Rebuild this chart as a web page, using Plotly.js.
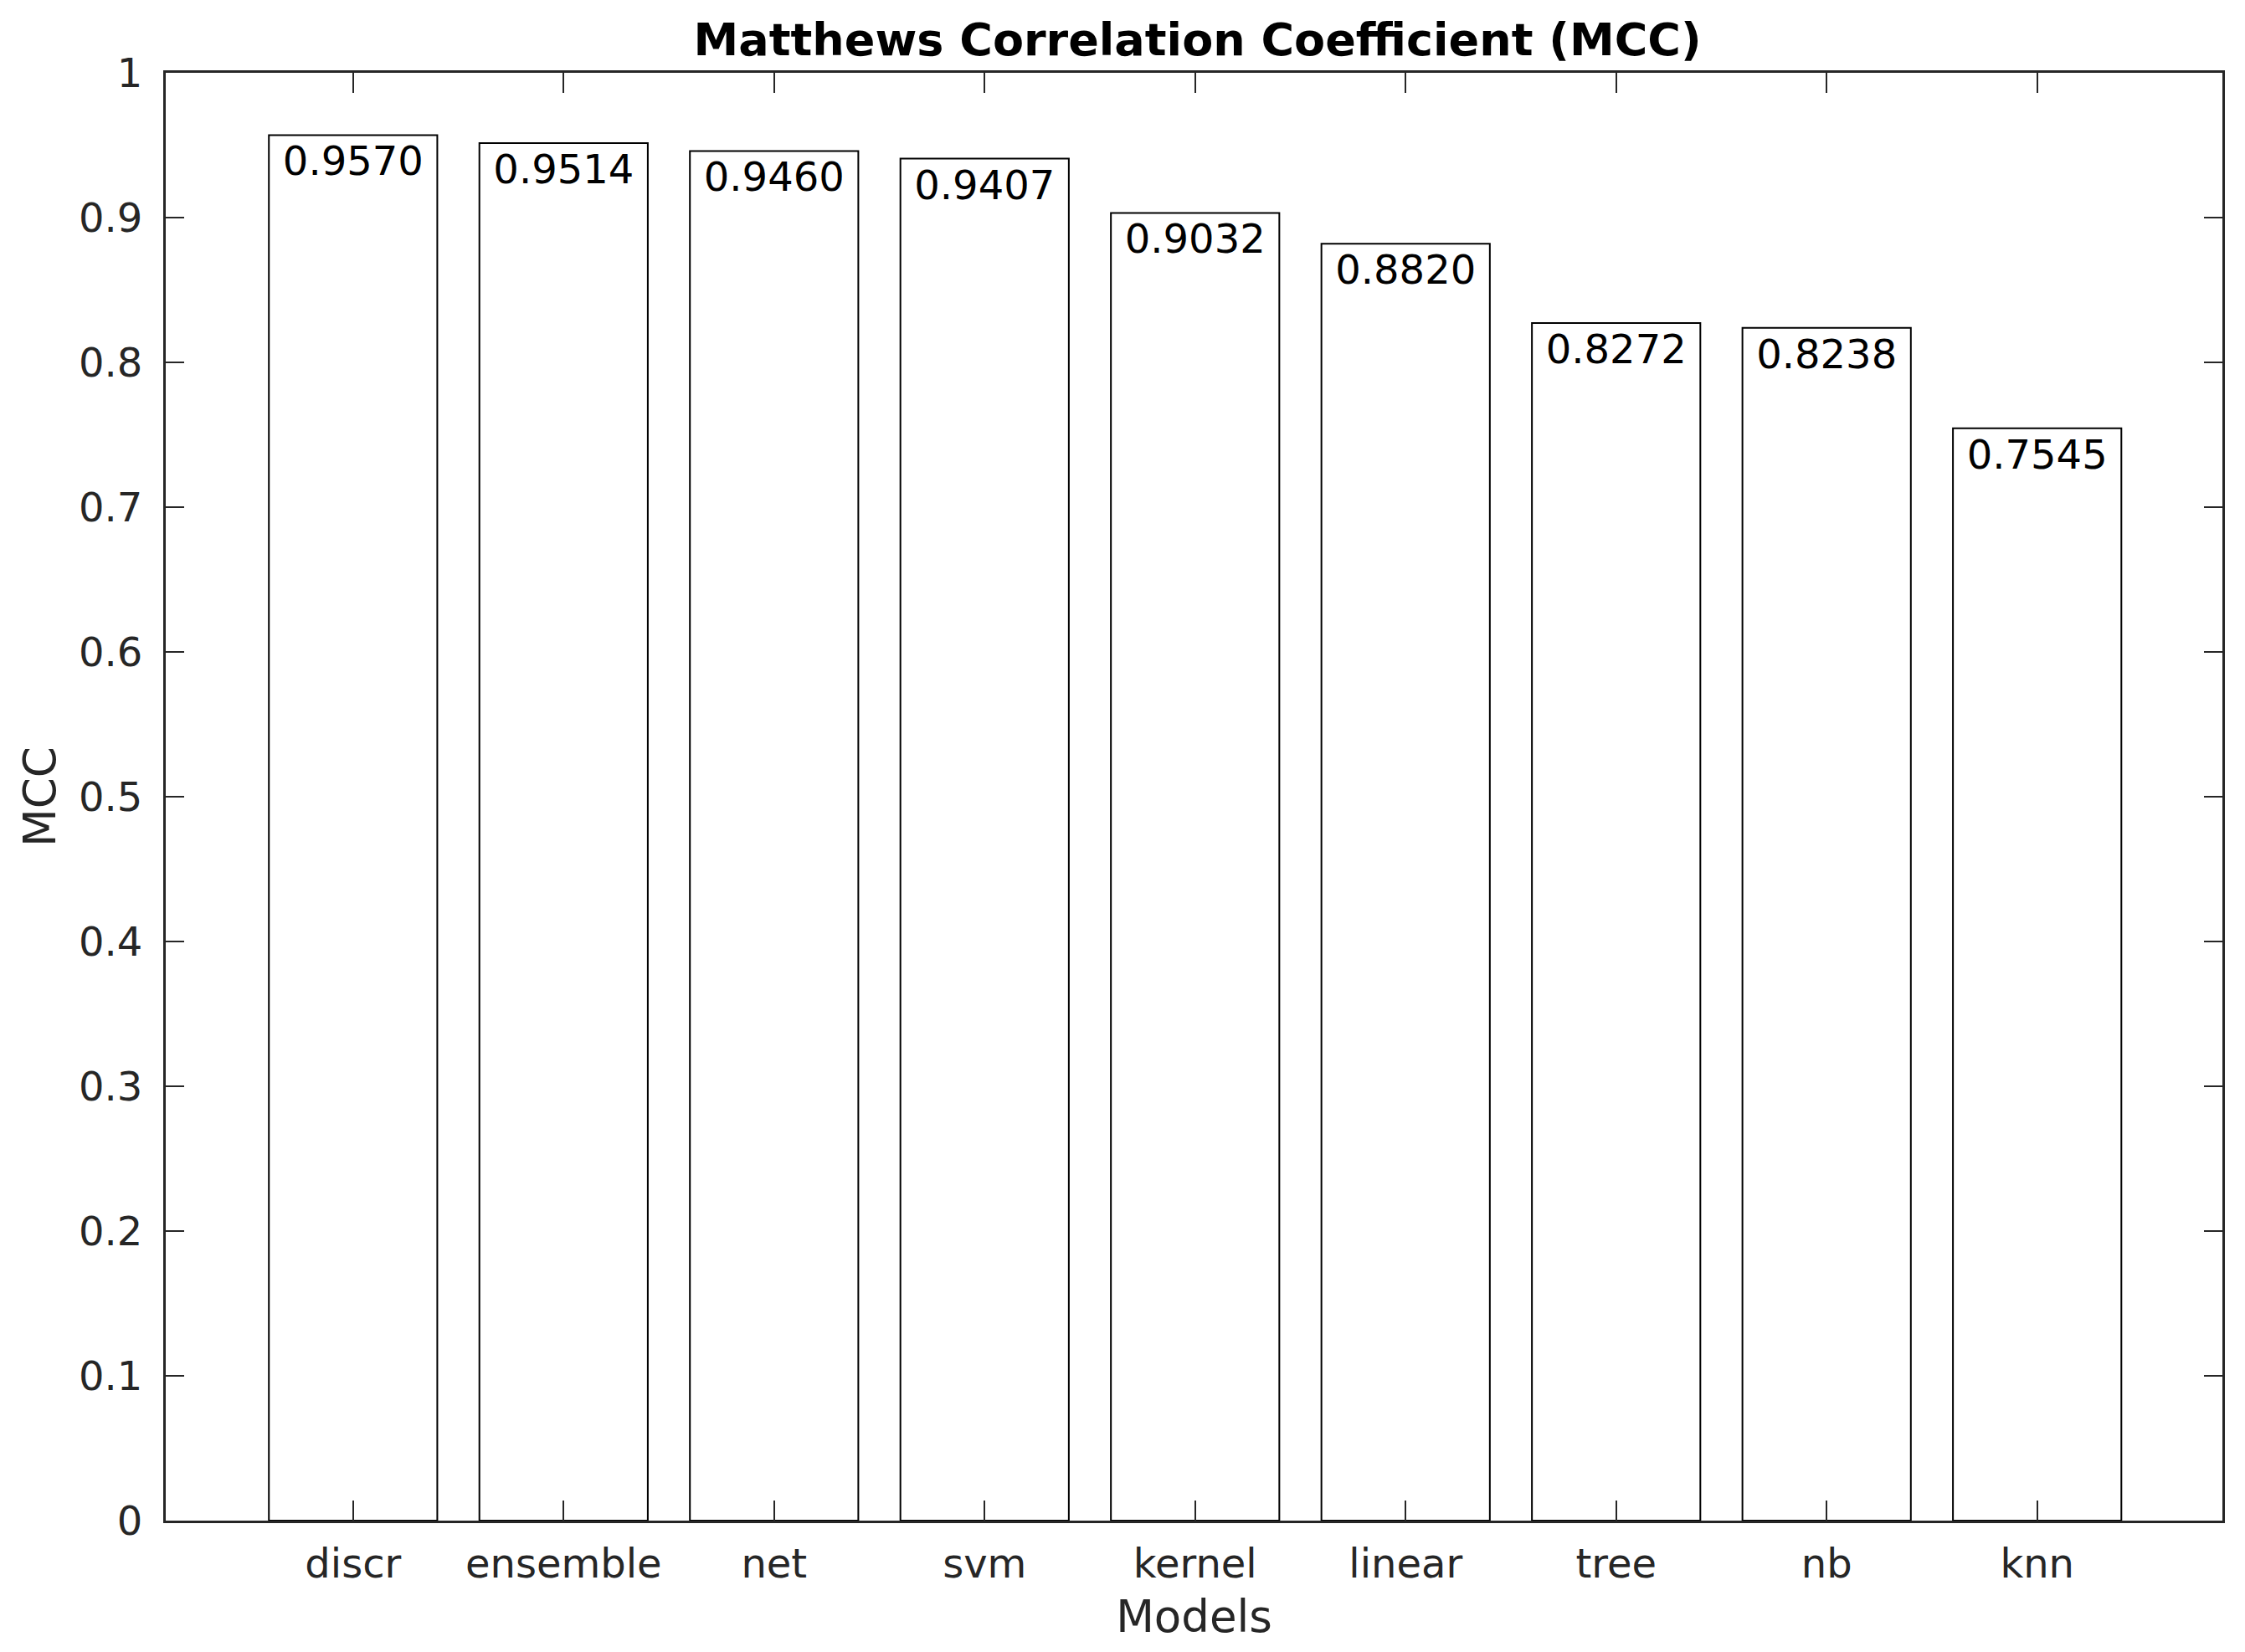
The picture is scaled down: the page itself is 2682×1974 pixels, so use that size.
<!DOCTYPE html>
<html>
<head>
<meta charset="utf-8">
<script src="https://cdn.plot.ly/plotly-3.0.1.min.js"></script>
<style>html,body{margin:0;padding:0;background:#fff;}#chart{width:2682px;height:1974px;}</style>
</head>
<body>
<div id="chart"></div>
<script>
const models = ["discr","ensemble","net","svm","kernel","linear","tree","nb","knn"];
const mcc = [0.9570,0.9514,0.9460,0.9407,0.9032,0.8820,0.8272,0.8238,0.7545];
const mccLabels = ["0.9570","0.9514","0.9460","0.9407","0.9032","0.8820","0.8272","0.8238","0.7545"];
const yTickVals = [0,0.1,0.2,0.3,0.4,0.5,0.6,0.7,0.8,0.9,1];
const yTickText = ["0","0.1","0.2","0.3","0.4","0.5","0.6","0.7","0.8","0.9","1"];

const FONT = "DejaVu Sans, Verdana, sans-serif";
const AX = "#262626";

const trace = {
  type: "bar",
  x: models,
  y: mcc,
  width: 0.8,
  marker: {color: "#ffffff", line: {color: "#000000", width: 2}},
  text: mccLabels,
  textposition: "inside",
  insidetextanchor: "end",
  textangle: 0,
  constraintext: "none",
  textfont: {family: FONT, size: 48, color: "#000000"},
  hoverinfo: "x+y"
};

const layout = {
  width: 2682, height: 1974,
  paper_bgcolor: "#ffffff", plot_bgcolor: "#ffffff",
  margin: {l: 198, r: 27, t: 87, b: 157, pad: 0},
  showlegend: false,
  font: {family: FONT, color: AX},
  title: {text: "<b>Matthews Correlation Coefficient (MCC)</b>", font: {family: FONT, size: 54, color: "#000000"},
          x: 0.5334, xanchor: "center", y: 0.976, yanchor: "middle"},
  xaxis: {
    type: "category", range: [-0.89, 8.88], autorange: false,
    showline: true, linecolor: AX, linewidth: 3, mirror: "allticks",
    ticks: "inside", ticklen: 24, tickwidth: 2, tickcolor: AX,
    showgrid: false, zeroline: false,
    tickfont: {family: FONT, size: 48, color: AX},
    ticklabelstandoff: 7,
    title: {text: "Models", font: {family: FONT, size: 53, color: AX}, standoff: 19}
  },
  yaxis: {
    range: [0, 1], autorange: false,
    tickvals: yTickVals, ticktext: yTickText,
    showline: true, linecolor: AX, linewidth: 3, mirror: "allticks",
    ticks: "inside", ticklen: 22, tickwidth: 2, tickcolor: AX,
    showgrid: false, zeroline: false,
    tickfont: {family: FONT, size: 48, color: AX},
    ticklabelstandoff: 15,
    title: {text: "MCC", font: {family: FONT, size: 53, color: AX}, standoff: 11}
  },
  bargap: 0.2
};

Plotly.newPlot("chart", [trace], layout, {staticPlot: true, displayModeBar: false});
</script>
</body>
</html>
